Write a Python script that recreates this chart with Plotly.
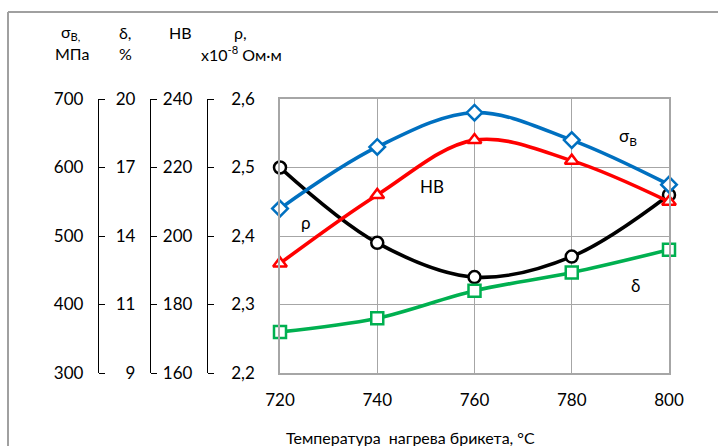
import plotly.graph_objects as go

temps = [720, 740, 760, 780, 800]
sigma_b = [540, 630, 680, 640, 575]      # MPa
hb = [192, 212, 228, 222, 210]           # HB
delta = [9.8, 10.4, 11.6, 12.4, 13.4]    # %
rho = [2.50, 2.39, 2.34, 2.37, 2.46]     # x10^-8 Ohm*m

sigma_ticks = [300, 400, 500, 600, 700]
delta_tickvals = [8, 11, 14, 17, 20]
delta_ticktext = ["9", "11", "14", "17", "20"]
hb_ticks = [160, 180, 200, 220, 240]
rho_ticks = [2.2, 2.3, 2.4, 2.5, 2.6]
rho_ticktext = ["2,2", "2,3", "2,4", "2,5", "2,6"]

FONT = "Lato"
W, H = 718, 446
ML, MR, MT, MB = 0, 49, 99, 73
PW = W - ML - MR
PH = H - MT - MB


def px(x):
    return (x - ML) / PW


def py(y):
    return (H - MB - y) / PH


fig = go.Figure()

mk = dict(size=12, color="white")
fig.add_trace(go.Scatter(x=temps, y=sigma_b, yaxis="y2", mode="lines+markers",
                         line=dict(color="#0070C0", width=3.6, shape="spline"),
                         marker=dict(symbol="diamond", line=dict(color="#0070C0", width=2.5), **mk),
                         cliponaxis=False))
fig.add_trace(go.Scatter(x=temps, y=hb, yaxis="y4", mode="lines+markers",
                         line=dict(color="#FF0000", width=3.6, shape="spline"),
                         marker=dict(symbol="triangle-up", line=dict(color="#FF0000", width=2.5), **mk),
                         cliponaxis=False))
fig.add_trace(go.Scatter(x=temps, y=delta, yaxis="y3", mode="lines+markers",
                         line=dict(color="#00B050", width=3.6, shape="spline"),
                         marker=dict(symbol="square", line=dict(color="#00B050", width=2.5), **mk),
                         cliponaxis=False))
fig.add_trace(go.Scatter(x=temps, y=rho, yaxis="y", mode="lines+markers",
                         line=dict(color="#000000", width=3.6, shape="spline"),
                         marker=dict(symbol="circle", line=dict(color="#000000", width=2.5), **mk),
                         cliponaxis=False))

grid = "#A6A6A6"
tickfont = dict(family=FONT, size=17, color="#000")
# labelled axes (labels on the left, line)
side_axis = dict(overlaying="y", anchor="free", side="left", showgrid=False,
                 showline=True, linecolor="#000", linewidth=1.3,
                 ticks="", tickfont=tickfont, ticklabelstandoff=11, zeroline=False)
# companion axes that only draw the tick marks pointing right
tick_axis = dict(overlaying="y", anchor="free", side="right", showgrid=False,
                 showline=False, ticks="outside", ticklen=6, tickwidth=1.3,
                 tickcolor="#000", showticklabels=False, zeroline=False)

fig.update_layout(
    width=W, height=H,
    margin=dict(l=ML, r=MR, t=MT, b=MB, autoexpand=False),
    paper_bgcolor="white", plot_bgcolor="white",
    showlegend=False,
    xaxis=dict(domain=[px(280), 1], range=[720, 800], tickvals=temps,
               showgrid=True, gridcolor=grid, gridwidth=1,
               showline=True, linecolor=grid, linewidth=1.5, mirror=True,
               ticks="", tickfont=tickfont, ticklabelstandoff=11, zeroline=False),
    yaxis=dict(range=[2.2, 2.6], tickvals=rho_ticks, ticktext=rho_ticktext,
               showgrid=True, gridcolor=grid, gridwidth=1,
               showline=True, linecolor=grid, linewidth=1.5, mirror=True,
               ticks="", tickfont=tickfont, ticklabelstandoff=20, zeroline=False),
    yaxis2=dict(range=[300, 700], tickvals=sigma_ticks, position=px(98), **side_axis),
    yaxis3=dict(range=[8, 20], tickvals=delta_tickvals, ticktext=delta_ticktext,
                position=px(150), **side_axis),
    yaxis4=dict(range=[160, 240], tickvals=hb_ticks, position=px(207), **side_axis),
    yaxis5=dict(range=[300, 700], tickvals=sigma_ticks, position=px(98), **tick_axis),
    yaxis6=dict(range=[8, 20], tickvals=delta_tickvals, position=px(150), **tick_axis),
    yaxis7=dict(range=[160, 240], tickvals=hb_ticks, position=px(207), **tick_axis),
)

# invisible traces so the tick-only axes are rendered
for ax, rng in (("y5", sigma_b), ("y6", delta), ("y7", hb)):
    fig.add_trace(go.Scatter(x=[temps[0]], y=[rng[0]], yaxis=ax, mode="markers",
                             marker=dict(opacity=0), hoverinfo="skip"))

hdr = dict(family=FONT, size=16, color="#000")
annots = [
    (70, 32, "σ<sub>В,</sub>"), (72, 53, "МПа"),
    (125, 32, "δ,"), (125, 53, "%"),
    (180, 32, "НВ"),
    (240, 32, "ρ,"), (241, 53, "x10<sup>-8</sup> Ом·м"),
    (410, 437, "Температура  нагрева брикета, °C"),
]
for x, y, t in annots:
    fig.add_annotation(x=px(x), y=py(y), xref="paper", yref="paper", text=t,
                       showarrow=False, font=hdr, xanchor="center", yanchor="middle")

lab = dict(family=FONT, size=17, color="#000")
fig.add_annotation(x=791.6, y=2.545, text="σ<sub>В</sub>", showarrow=False, font=lab)
fig.add_annotation(x=751.3, y=2.472, text="НВ", showarrow=False, font=lab)
fig.add_annotation(x=725.3, y=2.419, text="ρ", showarrow=False, font=lab)
fig.add_annotation(x=793.2, y=2.328, text="δ", showarrow=False, font=lab)

border = "#A0A0A0"
fig.add_shape(type="line", xref="paper", yref="paper", x0=px(8), x1=px(720),
              y0=py(12), y1=py(12), line=dict(color=border, width=2))
fig.add_shape(type="line", xref="paper", yref="paper", x0=px(8), x1=px(8),
              y0=py(12), y1=py(450), line=dict(color=border, width=2))

fig.write_html("out.html")
